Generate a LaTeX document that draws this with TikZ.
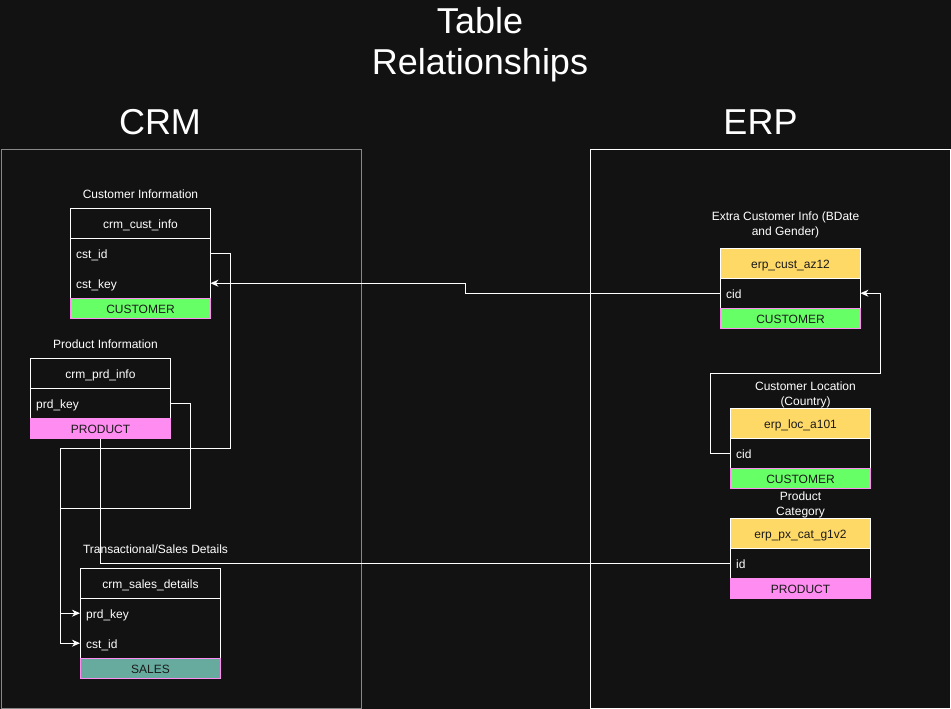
\documentclass[tikz,border=0pt]{standalone}
\usepackage{fontspec}
\setmainfont{Liberation Sans}
\usetikzlibrary{arrows.meta}
\definecolor{bg}{HTML}{121212}
\definecolor{crmgray}{HTML}{888888}
\definecolor{custgreen}{HTML}{66FF66}
\definecolor{prodpink}{HTML}{FF8CF0}
\definecolor{salesteal}{HTML}{67AB9F}
\definecolor{erpyellow}{HTML}{FFD966}
\definecolor{footdark}{HTML}{1A1A1A}
\begin{document}
\begin{tikzpicture}[x=1pt,y=-1pt,
  every node/.style={font=\fontsize{12}{15}\selectfont, text=white},
  thead/.style={draw=white, line width=1pt, fill=bg, minimum width=140pt, minimum height=30pt, inner sep=0pt, anchor=north west, text height=9.6pt, text depth=0pt},
  eheader/.style={thead, fill=erpyellow, text=footdark},
  trow/.style={minimum height=30pt, text width=128pt, inner xsep=6pt, inner ysep=0pt, align=left, anchor=north west, text height=9.6pt, text depth=0pt},
  tline/.style={draw=white, line width=1pt},
  tfoot/.style={draw=prodpink, line width=1pt, minimum width=140pt, minimum height=20pt, inner sep=0pt, anchor=north west, text=footdark, text height=9.6pt, text depth=0pt},
  lbl/.style={align=center},
  bigtext/.style={font=\fontsize{36}{41}\selectfont},
  conn/.style={draw=white, line width=1pt},
  arr/.style={conn, -{Stealth[length=8pt,width=7pt,inset=2.5pt]}},
  container/.style={line width=1pt, minimum width=360pt, minimum height=559pt, inner sep=0pt, anchor=north west}
]
\fill[bg] (0,0) rectangle (951,709);
\useasboundingbox (0,0) rectangle (951,709);

% titles
\node[bigtext, align=center] (title) at (480,45) {Table\\Relationships};
\node[bigtext, anchor=base] (crmt) at (160,134) {CRM};
\node[bigtext, anchor=base] (erpt) at (760.5,134) {ERP};

% containers
\node[container, draw=crmgray] (crm) at (0.5,148.5) {};
\node[container, draw=white] (erp) at (590,148.5) {};

% CRM: customer info
\node[thead] (ci-h) at (70,208) {crm\_cust\_info};
\node[trow] (ci-id) at (70,238) {cst\_id};
\node[trow] (ci-key) at (70,268) {cst\_key};
\draw[tline] (ci-id.north west) rectangle (ci-key.south east);
\node[tfoot, fill=custgreen] (ci-f) at (70,298) {CUSTOMER};

% CRM: product info
\node[thead] (cp-h) at (30,358) {crm\_prd\_info};
\node[trow] (cp-key) at (30,388) {prd\_key};
\draw[tline] (cp-key.north west) rectangle (cp-key.south east);
\node[tfoot, fill=prodpink] (cp-f) at (30,418) {PRODUCT};

% CRM: sales details
\node[thead] (sd-h) at (80,568) {crm\_sales\_details};
\node[trow] (sd-key) at (80,598) {prd\_key};
\node[trow] (sd-cid) at (80,628) {cst\_id};
\draw[tline] (sd-key.north west) rectangle (sd-cid.south east);
\node[tfoot, fill=salesteal] (sd-f) at (80,658) {SALES};

% ERP: cust az12
\node[eheader] (ez-h) at (720,248) {erp\_cust\_az12};
\node[trow] (ez-cid) at (720,278) {cid};
\draw[tline] (ez-cid.north west) rectangle (ez-cid.south east);
\node[tfoot, fill=custgreen] (ez-f) at (720,308) {CUSTOMER};

% ERP: loc a101
\node[eheader] (el-h) at (730,408) {erp\_loc\_a101};
\node[trow] (el-cid) at (730,438) {cid};
\draw[tline] (el-cid.north west) rectangle (el-cid.south east);
\node[tfoot, fill=custgreen] (el-f) at (730,468) {CUSTOMER};

% ERP: px cat g1v2
\node[eheader] (ep-h) at (730,518) {erp\_px\_cat\_g1v2};
\node[trow] (ep-id) at (730,548) {id};
\draw[tline] (ep-id.north west) rectangle (ep-id.south east);
\node[tfoot, fill=prodpink] (ep-f) at (730,578) {PRODUCT};

% connectors
\draw[arr] (ez-cid.west) -- ++(-255,0) |- (ci-key.east);
\draw[arr] (el-cid.west) -- ++(-20,0) -- ++(0,-80) -- ++(170,0) |- (ez-cid.east);
\draw[arr] (ci-id.east) -- ++(20,0) -- ++(0,195) -- ++(-170,0) |- (sd-cid.west);
\draw[arr] (cp-key.east) -- ++(20,0) -- ++(0,105) -- ++(-130,0) |- (sd-key.west);
\draw[conn] (cp-f.south) |- (ep-id.west);

% labels
\node[anchor=base] (ci-l) at (140.5,198) {Customer Information};
\node[anchor=base] (cp-l) at (105.5,348) {Product Information};
\node[anchor=base] (sd-l) at (155.5,553) {Transactional/Sales Details};
\node[lbl] (ez-l) at (785.5,224.4) {Extra Customer Info (BDate\\and Gender)};
\node[lbl] (el-l) at (805.5,394.4) {Customer Location\\(Country)};
\node[lbl] (ep-l) at (800.5,504.4) {Product\\Category};
\end{tikzpicture}
\end{document}
